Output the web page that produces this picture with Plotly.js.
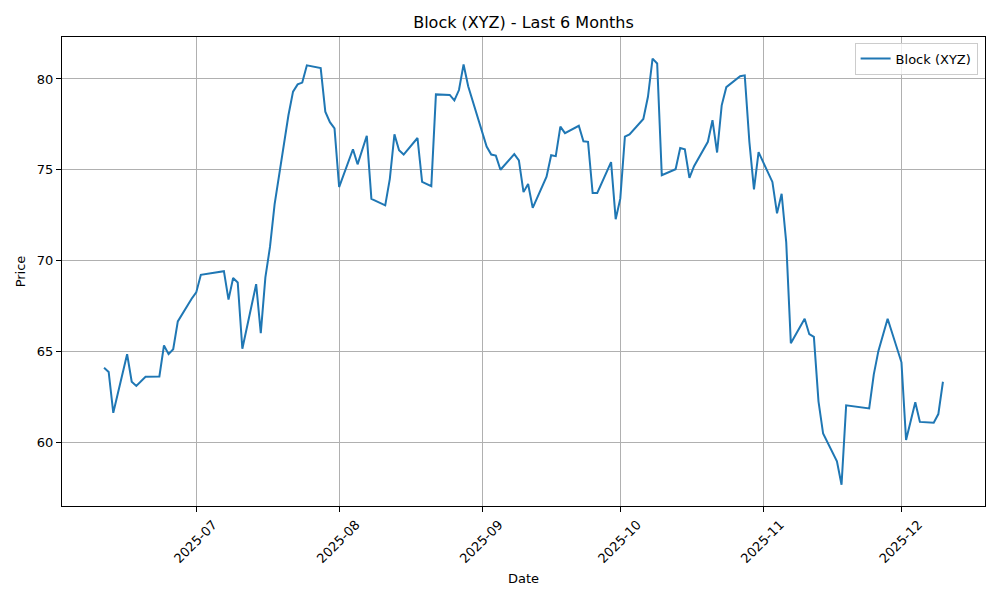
<!DOCTYPE html>
<html>
<head>
<meta charset="utf-8">
<script src="https://cdn.plot.ly/plotly-3.0.1.min.js"></script>
<style>
  html, body { margin: 0; padding: 0; background: #fff; }
  #chart_area { width: 1000px; height: 600px; }
</style>
</head>
<body>
<div id="chart_area"></div>
<script>
var dates = [
  '2025-06-11', '2025-06-12', '2025-06-13', '2025-06-16', '2025-06-17', '2025-06-18', '2025-06-20',
  '2025-06-23', '2025-06-24', '2025-06-25', '2025-06-26', '2025-06-27', '2025-06-30',
  '2025-07-01', '2025-07-02', '2025-07-07', '2025-07-08', '2025-07-09', '2025-07-10', '2025-07-11',
  '2025-07-14', '2025-07-15', '2025-07-16', '2025-07-17', '2025-07-18', '2025-07-21', '2025-07-22',
  '2025-07-23', '2025-07-24', '2025-07-25', '2025-07-28', '2025-07-29', '2025-07-30', '2025-07-31',
  '2025-08-01', '2025-08-04', '2025-08-05', '2025-08-07', '2025-08-08', '2025-08-11', '2025-08-12',
  '2025-08-13', '2025-08-14', '2025-08-15', '2025-08-18', '2025-08-19', '2025-08-21', '2025-08-22',
  '2025-08-25', '2025-08-26', '2025-08-27', '2025-08-28', '2025-08-29', '2025-09-02', '2025-09-03',
  '2025-09-04', '2025-09-05', '2025-09-08', '2025-09-09', '2025-09-10', '2025-09-11', '2025-09-12',
  '2025-09-15', '2025-09-16', '2025-09-17', '2025-09-18', '2025-09-19', '2025-09-22', '2025-09-23',
  '2025-09-24', '2025-09-25', '2025-09-26', '2025-09-29', '2025-09-30', '2025-10-01', '2025-10-02',
  '2025-10-03', '2025-10-06', '2025-10-07', '2025-10-08', '2025-10-09', '2025-10-10', '2025-10-13',
  '2025-10-14', '2025-10-15', '2025-10-16', '2025-10-17', '2025-10-20', '2025-10-21', '2025-10-22',
  '2025-10-23', '2025-10-24', '2025-10-27', '2025-10-28', '2025-10-29', '2025-10-30', '2025-10-31',
  '2025-11-03', '2025-11-04', '2025-11-05', '2025-11-06', '2025-11-07', '2025-11-10', '2025-11-11',
  '2025-11-12', '2025-11-13', '2025-11-14', '2025-11-17', '2025-11-18', '2025-11-19', '2025-11-24',
  '2025-11-25', '2025-11-26', '2025-11-28', '2025-12-01', '2025-12-02', '2025-12-04', '2025-12-05',
  '2025-12-08', '2025-12-09', '2025-12-10'
];

var prices = [
  64.10, 63.87, 61.62, 64.85, 63.33, 63.10, 63.60,
  63.62, 65.33, 64.85, 65.12, 66.65, 67.90,
  68.25, 69.22, 69.42, 67.85, 69.04, 68.80, 65.15,
  68.70, 66.00, 69.08, 70.75, 73.10, 78.00, 79.30,
  79.70, 79.80, 80.75, 80.60, 78.20, 77.62, 77.28,
  74.05, 76.13, 75.30, 76.87, 73.40, 73.04, 74.50,
  76.95, 76.08, 75.84, 76.75, 74.33, 74.10, 79.15,
  79.12, 78.82, 79.39, 80.80, 79.60, 76.28, 75.84,
  75.78, 75.00, 75.86, 75.52, 73.77, 74.22, 72.90,
  74.62, 75.80, 75.75, 77.38, 77.02, 77.42, 76.57,
  76.54, 73.72, 73.72, 75.42, 72.28, 73.41, 76.82,
  76.95, 77.80, 79.02, 81.12, 80.85, 74.70, 75.03,
  76.20, 76.13, 74.55, 75.20, 76.54, 77.73, 75.95,
  78.55, 79.55, 80.15, 80.20, 76.55, 73.92, 75.97,
  74.33, 72.60, 73.68, 71.00, 65.45, 66.80, 65.95,
  65.80, 62.25, 60.48, 58.95, 57.66, 62.03, 61.86,
  63.74, 65.03, 66.80, 64.40, 60.12, 62.20, 61.12,
  61.07, 61.55, 63.33
];

var xTickVals = ['2025-07-01', '2025-08-01', '2025-09-01', '2025-10-01', '2025-11-01', '2025-12-01'];
var xTickText = ['2025-07', '2025-08', '2025-09', '2025-10', '2025-11', '2025-12'];
var yTickVals = [60, 65, 70, 75, 80];

var trace0 = {
  type: 'scatter',
  mode: 'lines',
  name: 'Block (XYZ)',
  x: dates,
  y: prices,
  line: { color: '#1f77b4', width: 2 }
};

var layout = {
  width: 1000,
  height: 600,
  paper_bgcolor: '#fff',
  plot_bgcolor: '#fff',
  font: { family: 'DejaVu Sans', size: 13, color: '#000' },
  margin: { l: 62, r: 15, t: 37, b: 94 },
  title: { text: 'Block (XYZ) - Last 6 Months', font: { size: 16 }, x: 0.5235, xanchor: 'center', y: 0.962, yanchor: 'middle' },
  showlegend: true,
  legend: {
    x: 0.992, xanchor: 'right', y: 0.988, yanchor: 'top',
    bgcolor: 'rgba(255,255,255,0.8)', bordercolor: '#cccccc', borderwidth: 1,
    font: { size: 13 }, tracegroupgap: 0
  },
  xaxis: {
    type: 'date',
    range: ['2025-06-01T21:00', '2025-12-19T03:00'],
    tickvals: xTickVals,
    ticktext: xTickText,
    tickangle: -45,
    ticklabelshift: 17,
    ticks: 'outside', ticklen: 5, tickcolor: '#000',
    showgrid: true, gridcolor: '#b0b0b0', gridwidth: 1,
    showline: true, linecolor: '#000', linewidth: 1, mirror: true,
    zeroline: false,
    title: { text: 'Date', font: { size: 13 }, standoff: 8 }
  },
  yaxis: {
    range: [56.49, 82.31],
    tickvals: yTickVals,
    ticks: 'outside', ticklen: 5, tickcolor: '#000',
    showgrid: true, gridcolor: '#b0b0b0', gridwidth: 1,
    showline: true, linecolor: '#000', linewidth: 1, mirror: true,
    zeroline: false,
    title: { text: 'Price', font: { size: 13 }, standoff: 8 }
  }
};

var config = { responsive: false, displayModeBar: false };

Plotly.newPlot('chart_area', [trace0], layout, config);
</script>
</body>
</html>
